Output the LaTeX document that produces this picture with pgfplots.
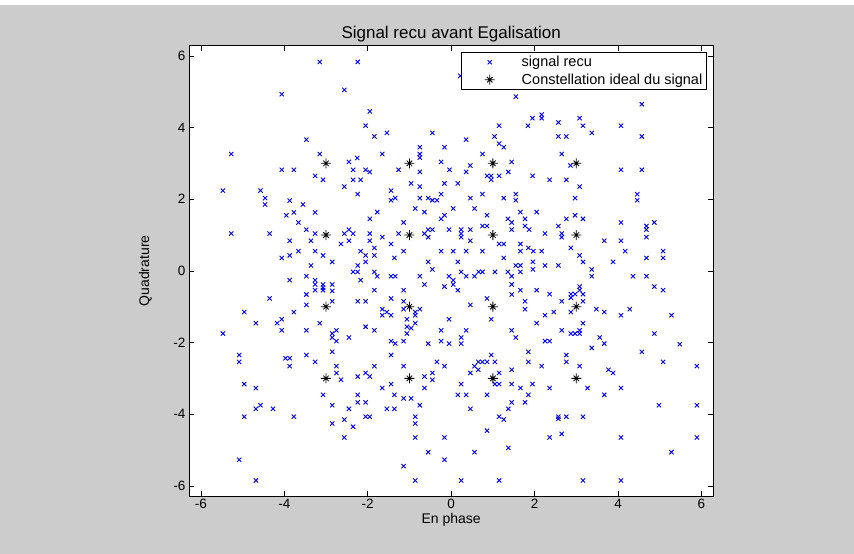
\documentclass[border=0pt]{standalone}
\usepackage{pgfplots}
\pgfplotsset{compat=1.18}
\usepackage{pgfplotstable}
\usepackage{fontspec}
\setmainfont{Liberation Sans}
\definecolor{figgray}{RGB}{204,204,204}
\pgfdeclareplotmark{mstar}{%
  \pgfpathmoveto{\pgfqpoint{-\pgfplotmarksize}{0pt}}%
  \pgfpathlineto{\pgfqpoint{\pgfplotmarksize}{0pt}}%
  \pgfpathmoveto{\pgfqpoint{0pt}{-\pgfplotmarksize}}%
  \pgfpathlineto{\pgfqpoint{0pt}{\pgfplotmarksize}}%
  \pgfpathmoveto{\pgfqpoint{-0.55\pgfplotmarksize}{-0.55\pgfplotmarksize}}%
  \pgfpathlineto{\pgfqpoint{0.55\pgfplotmarksize}{0.55\pgfplotmarksize}}%
  \pgfpathmoveto{\pgfqpoint{-0.55\pgfplotmarksize}{0.55\pgfplotmarksize}}%
  \pgfpathlineto{\pgfqpoint{0.55\pgfplotmarksize}{-0.55\pgfplotmarksize}}%
  \pgfusepathqstroke}

\pgfplotstableread{
x y
-3.15 5.83
-2.24 5.83
-2.56 5.05
-4.06 4.93
-3.47 3.66
-5.27 3.26
-3.15 3.26
-2.25 3.15
-2.45 3.04
-4.06 2.82
-3.77 2.82
-2.35 2.82
-3.26 2.65
-3.07 2.54
-2.35 2.54
-2.17 2.54
-2.56 2.35
-5.47 2.24
-4.57 2.24
-2.24 2.14
0.22 5.44
1.55 4.86
-1.95 4.45
1.95 4.26
-2.05 4.05
1.15 4.05
1.84 4.05
-1.84 3.75
-1.54 3.85
-0.45 3.85
0.36 3.66
1.04 3.75
1.15 3.55
1.26 3.45
-0.75 3.45
-0.16 3.45
-1.65 3.26
-0.75 3.26
-0.75 3.16
0.75 3.26
-0.24 3.04
1.45 3.04
-2.05 2.82
-1.95 2.76
-1.26 2.82
-0.75 2.76
-0.04 2.82
0.46 2.94
0.36 2.76
1.37 2.76
0.86 2.65
0.96 2.65
0.96 2.54
1.15 2.65
1.95 2.65
-0.96 2.44
-0.75 2.35
-0.16 2.44
0.16 2.44
-1.44 2.24
-0.24 2.14
0.75 2.14
1.55 2.14
4.57 4.65
2.17 4.36
2.17 4.26
2.57 4.14
3.08 4.26
3.16 4.05
4.07 4.05
3.37 3.85
2.57 3.75
2.76 3.75
4.57 3.75
2.65 3.26
2.86 2.94
4.07 2.82
4.57 2.82
2.36 2.54
2.76 2.54
3.08 2.35
4.46 2.14
-4.46 2.03
-4.46 1.85
-3.87 1.96
-3.55 1.85
-3.95 1.55
-3.77 1.63
-3.26 1.63
-3.66 1.35
-5.27 1.04
-4.35 1.04
-3.47 1.15
-3.26 1.04
-2.56 1.04
-2.45 1.15
-2.35 1.04
-3.87 0.84
-3.36 0.84
-2.64 0.75
-2.45 0.84
-3.66 0.55
-3.26 0.55
-3.87 0.43
-4.06 0.36
-3.07 0.43
-2.85 0.25
-2.17 0.55
-3.36 0.15
-2.24 0.15
-2.35 -0.03
-2.24 -0.03
-3.87 -0.26
-3.47 -0.15
-3.26 -0.26
-3.26 -0.38
-3.07 -0.38
-3.07 -0.47
-2.85 -0.38
-2.17 -0.26
-3.26 -0.54
-3.07 -0.54
-2.85 -0.56
-4.35 -0.77
-3.47 -0.66
-3.47 -0.95
-2.85 -0.85
-2.24 -0.85
-4.96 -1.15
-3.77 -1.15
-4.68 -1.46
-4.17 -1.46
-4.06 -1.35
-3.15 -1.46
-4.06 -1.66
-3.47 -1.66
-5.47 -1.75
-2.85 -1.75
-2.75 -1.66
-2.85 -1.86
-2.75 -1.96
-2.45 -1.86
-1.44 1.97
-1.34 2.03
-0.75 2.03
-0.55 2.03
-0.45 1.97
-0.34 1.97
0.46 2.03
1.26 2.03
1.55 1.97
-1.77 1.64
-1.95 1.45
-0.86 1.74
-0.64 1.64
0.05 1.74
0.56 1.74
-1.14 1.35
-0.24 1.45
-0.16 1.55
0.86 1.55
1.36 1.45
1.45 1.35
1.66 1.64
1.77 1.45
1.77 1.25
1.87 1.15
2.05 1.64
-1.95 1.04
-1.95 0.84
-1.65 0.94
-1.44 0.75
-1.26 1.04
-0.64 1.04
-0.55 1.15
-0.55 0.94
-0.45 1.15
-0.05 1.15
0.24 1.15
0.24 1.04
0.24 0.94
0.46 1.15
0.46 0.84
0.75 1.25
0.86 1.25
1.45 1.15
1.15 0.75
1.26 0.75
1.66 0.75
1.85 0.64
1.97 0.55
-2.05 0.43
-2.05 0.25
-1.84 0.64
-1.84 0.43
-1.36 0.36
-1.14 0.55
-0.55 0.25
-0.45 0.04
-0.24 0.55
0.05 0.55
0.16 0.25
0.36 0.55
0.75 0.55
1.26 0.36
1.66 0.55
1.96 0.25
1.55 0.15
1.66 0.15
1.96 0.04
-1.84 -0.03
-1.77 -0.15
-1.44 -0.15
-1.34 -0.15
-0.75 -0.15
-0.64 -0.38
-0.16 -0.44
-0.05 -0.15
0.05 -0.26
0.05 -0.38
0.16 -0.54
0.24 -0.03
0.36 -0.15
0.56 -0.15
0.66 -0.03
0.75 -0.03
1.05 -0.03
1.36 -0.03
1.45 -0.15
1.45 -0.38
1.45 -0.66
1.66 -0.03
1.66 -0.54
2.05 -0.54
-1.84 -0.54
-2.05 -0.85
-1.44 -0.77
-1.14 -0.54
-1.14 -0.85
-1.65 -1.07
-1.65 -1.24
-1.54 -1.15
-1.44 -1.24
-1.14 -1.07
-0.86 -1.15
-0.86 -1.24
-0.75 -1.07
-1.06 -1.35
-0.86 -1.46
-1.06 -1.56
-0.96 -1.60
-1.06 -1.75
-2.05 -1.56
-1.84 -1.66
-1.44 -1.96
-1.34 -2.03
-1.14 -1.96
-0.55 -2.03
-0.24 -1.66
-0.24 -1.96
-0.05 -2.03
-0.05 -1.35
0.24 -1.86
0.24 -2.03
0.36 -1.66
0.46 -0.95
0.86 -0.77
0.96 -1.35
1.45 -1.66
1.55 -1.86
1.77 -0.85
1.77 -1.07
2.05 -1.46
2.97 2.03
4.46 1.97
2.76 1.45
2.97 1.55
3.16 1.45
2.57 1.25
2.25 1.04
2.65 1.04
2.65 0.94
4.07 1.35
4.68 1.25
4.68 1.15
4.87 1.35
4.68 0.94
3.67 0.84
4.07 0.84
2.17 0.55
2.87 0.64
3.08 0.43
3.16 0.25
4.17 0.55
3.88 0.25
4.68 0.36
5.08 0.55
5.08 0.36
2.25 0.15
2.57 0.15
3.37 0.04
3.37 -0.15
4.36 -0.15
4.68 -0.15
4.87 -0.44
5.08 -0.54
2.36 -0.65
2.87 -0.65
2.87 -0.75
2.97 -0.65
3.08 -0.44
3.08 -0.54
3.16 -0.65
2.65 -0.85
3.16 -0.85
3.48 -1.07
3.67 -1.15
4.28 -1.07
4.07 -1.24
5.28 -1.24
2.25 -1.24
2.46 -1.15
2.87 -1.15
3.16 -1.46
2.65 -1.66
2.87 -1.75
2.97 -1.75
3.08 -1.66
3.08 -1.75
4.87 -1.75
3.56 -1.86
3.67 -2.03
2.25 -1.96
2.36 -1.96
5.48 -2.05
-5.08 -2.35
-5.08 -2.54
-3.97 -2.44
-3.87 -2.44
-3.87 -2.66
-3.47 -2.35
-3.26 -2.54
-2.85 -2.26
-2.75 -2.66
-2.75 -2.85
-2.64 -3.04
-2.24 -2.95
-4.96 -3.16
-4.68 -3.27
-3.07 -3.46
-2.24 -3.46
-2.24 -3.67
-4.68 -3.85
-4.57 -3.75
-4.27 -3.85
-2.85 -3.75
-2.45 -3.85
-4.96 -4.07
-3.77 -4.07
-2.56 -4.15
-2.85 -4.26
-2.35 -4.35
-2.56 -4.65
-5.08 -5.27
-4.68 -5.85
-1.44 -2.35
-1.84 -2.66
-1.14 -2.66
-2.05 -2.85
-1.95 -2.95
-0.34 -2.54
-0.16 -2.66
-0.64 -2.95
-0.45 -2.85
-0.45 -3.04
-1.65 -3.27
-1.44 -3.16
-0.64 -3.27
-1.36 -3.46
-1.14 -3.56
-0.96 -3.56
-0.75 -3.75
-2.05 -3.67
-1.54 -3.85
-1.36 -3.85
-2.05 -4.07
-1.95 -4.07
-0.86 -4.07
-0.86 -4.26
-0.86 -4.65
-0.16 -4.65
-0.55 -5.06
-0.16 -5.27
-1.14 -5.45
-0.86 -5.85
0.24 -5.85
0.56 -5.06
1.15 -5.85
0.86 -4.46
1.37 -4.94
0.46 -3.85
0.16 -3.46
0.36 -3.46
0.24 -3.16
0.46 -2.85
0.56 -2.66
0.65 -2.54
0.75 -2.54
0.86 -2.54
0.65 -2.76
0.96 -2.35
1.05 -2.54
1.15 -2.85
1.05 -3.16
1.15 -3.16
0.86 -3.46
1.45 -2.76
1.45 -3.16
1.66 -3.27
1.85 -2.26
1.85 -2.54
1.95 -3.16
1.85 -3.46
1.77 -3.67
1.45 -3.67
1.37 -3.85
1.15 -4.07
1.26 -4.15
3.37 -2.15
4.57 -2.26
2.76 -2.35
2.76 -2.54
2.17 -2.66
3.08 -2.66
5.08 -2.54
5.89 -2.66
3.77 -2.76
3.88 -2.85
2.36 -3.27
3.27 -3.27
4.07 -3.27
3.67 -3.46
4.98 -3.75
5.89 -3.75
2.57 -4.07
2.57 -4.13
2.76 -4.07
3.16 -4.07
2.36 -4.65
2.65 -4.55
4.07 -4.65
5.89 -4.65
5.28 -5.06
3.16 -5.85
4.07 -5.85
}\recu

\pgfplotstableread{
x y
-3 3
-1 3
1 3
3 3
-3 1
-1 1
1 1
3 1
-3 -1
-1 -1
1 -1
3 -1
-3 -3
-1 -3
1 -3
3 -3
}\ideal

\begin{document}
\begin{tikzpicture}
\fill[figgray] (0pt,0pt) rectangle (854pt,549pt);
\fill[white] (0pt,549pt) rectangle (854pt,554pt);
\useasboundingbox (0pt,0pt) rectangle (854pt,554pt);
\begin{axis}[
  at={(189pt,58pt)}, anchor=south west,
  scale only axis, width=524.3pt, height=450.3pt,
  xmin=-6.283, xmax=6.283, ymin=-6.283, ymax=6.283,
  xtick={-6,-4,...,6}, ytick={-6,-4,...,6},
  tick align=inside, major tick length=5pt,
  axis background/.style={fill=white},
  axis line style={line width=0.8pt, black},
  every tick/.style={line width=0.6pt, black},
  /pgf/number format/assume math mode=true,
  ticklabel style={font=\fontsize{13.5}{16}\selectfont},
  every axis title/.style={at={(0.5,1)}, anchor=south, font=\fontsize{17}{20}\selectfont},
  title={Signal recu avant Egalisation},
  xlabel={En phase}, ylabel={Quadrature},
  every axis x label/.style={at={(axis description cs:0.5,-0.053)}, anchor=center, font=\fontsize{14}{16}\selectfont},
  every axis y label/.style={at={(axis description cs:-0.083,0.5)}, anchor=center, rotate=90, font=\fontsize{14}{16}\selectfont},
  legend style={at={(axis description cs:0.9874,0.9853)}, anchor=north east,
    draw=black, line width=0.8pt, fill=white,
    font=\fontsize{14.5}{17}\selectfont, inner xsep=2pt, inner ysep=1.5pt,
    row sep=1.5pt, nodes={inner sep=2pt}},
  legend cell align=left,
  legend image code/.code={\path[draw=none,fill=none] (0pt,-4pt) rectangle (56pt,4pt); \draw[#1] plot coordinates {(26pt,0pt)};},
]
\addplot[only marks, mark=x, mark size=3pt, blue, line width=0.9pt] table[x=x,y=y] {\recu};
\addlegendentry{signal recu}
\addplot[only marks, mark=mstar, mark size=5pt, black, line width=0.8pt] table[x=x,y=y] {\ideal};
\addlegendentry{Constellation ideal du signal}
\end{axis}
\end{tikzpicture}
\end{document}
